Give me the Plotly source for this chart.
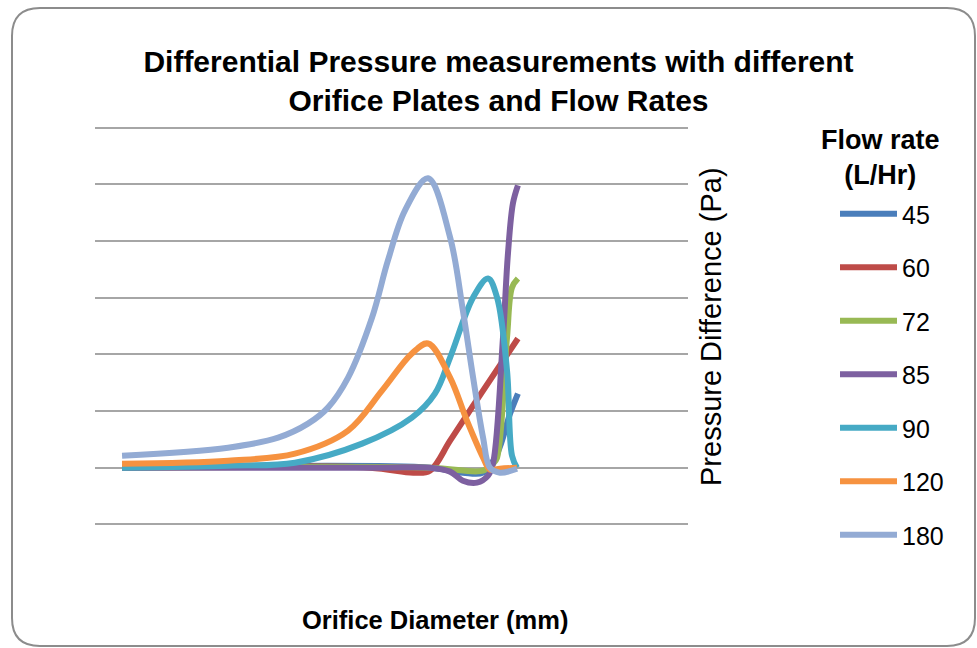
import plotly.graph_objects as go

# ---- data (orifice diameter in mm, pressure difference in Pa) ----
flow_rates = ["45", "60", "72", "85", "90", "120", "180"]
colors = ["#4A7EBB", "#BE4B48", "#98B954", "#7D60A0", "#46AAC5", "#F69240", "#93ABD4"]

d_45 = [1.14, 14.12, 15.51, 16.36, 16.95, 17.50, 17.83]
p_45 = [0, 0, -88, -88, 247, 954, 1307]

d_60 = [1.14, 11.59, 13.41, 14.12, 14.97, 15.94, 16.95, 17.83]
p_60 = [0, 0, -88, -53, 477, 1095, 1731, 2279]

d_72 = [1.14, 14.12, 16.36, 16.78, 16.95, 17.37, 17.58, 17.83]
p_72 = [0, 0, -53, 71, 177, 2297, 3180, 3339]

d_85 = [1.14, 12.02, 14.12, 14.97, 15.51, 16.10, 16.57, 16.78, 17.20, 17.41, 17.62, 17.83]
p_85 = [0, 0, 0, -70, -230, -265, -141, 71, 2297, 3781, 4665, 4982]

d_90 = [1.14, 5.61, 8.43, 11.26, 13.36, 14.33, 14.97, 15.94, 16.57, 16.95, 17.37, 17.58, 17.79]
p_90 = [0, 35, 88, 424, 883, 1307, 1943, 3004, 3339, 3004, 1714, 212, 0]

d_120 = [1.14, 5.61, 8.43, 10.67, 12.10, 13.36, 14.04, 14.97, 15.68, 16.36, 16.65, 17.07, 17.79]
p_120 = [71, 124, 247, 654, 1360, 2014, 2191, 1590, 830, 177, -35, -18, 0]

d_180 = [1.14, 5.61, 7.72, 8.98, 9.82, 10.67, 11.68, 12.35, 13.07, 14.04, 14.97, 15.51, 15.94, 16.36, 16.65, 17.07, 17.79]
p_180 = [212, 353, 530, 777, 1060, 1590, 2650, 3657, 4541, 5106, 4064, 2774, 1590, 530, 0, -88, -18]

diams = [d_45, d_60, d_72, d_85, d_90, d_120, d_180]
press = [p_45, p_60, p_72, p_85, p_90, p_120, p_180]

# ---- layout geometry ----
W, H = 977, 648
L, R, T, B = 95, 289, 122, 118
PW, PH = W - L - R, H - T - B


def px(x):
    return (x - L) / PW


def py(y):
    return (H - B - y) / PH


fig = go.Figure()
for name, c, xs, ys in zip(flow_rates, colors, diams, press):
    fig.add_trace(go.Scatter(
        x=xs, y=ys, name=name, mode="lines", legendgroup=name,
        line=dict(color=c, width=6, shape="spline", smoothing=1.0),
    ))

# rounded chart border
x0, y0, x1, y1, r = 12, 8, 975, 646, 28
rx, ry = r / PW, r / PH
X0, X1, Y0, Y1 = px(x0), px(x1), py(y0), py(y1)
path = (f"M{X0+rx},{Y0} L{X1-rx},{Y0} Q{X1},{Y0} {X1},{Y0-ry} "
        f"L{X1},{Y1+ry} Q{X1},{Y1} {X1-rx},{Y1} L{X0+rx},{Y1} "
        f"Q{X0},{Y1} {X0},{Y1+ry} L{X0},{Y0-ry} Q{X0},{Y0} {X0+rx},{Y0} Z")
fig.add_shape(type="path", path=path, xref="paper", yref="paper",
              line=dict(color="#8c8c8c", width=2), layer="below")

fig.add_annotation(text="Orifice Diameter (mm)", xref="paper", yref="paper",
                   x=px(435), y=py(620), xanchor="center", yanchor="middle", showarrow=False,
                   font=dict(family="Liberation Sans", size=25.5, color="#000000", weight="bold"))
fig.add_annotation(text="Pressure Difference (Pa)", xref="paper", yref="paper",
                   x=px(711), y=py(327), xanchor="center", yanchor="middle",
                   textangle=-90, showarrow=False,
                   font=dict(family="Liberation Sans", size=29, color="#000000"))
fig.add_annotation(text="Flow rate<br>(L/Hr)", xref="paper", yref="paper",
                   x=px(880), y=py(157), xanchor="center", yanchor="middle", showarrow=False,
                   font=dict(family="Liberation Sans", size=27, color="#000000", weight="bold"))

fig.update_layout(
    width=W, height=H,
    margin=dict(l=L, r=R, t=T, b=B),
    paper_bgcolor="white", plot_bgcolor="white",
    title=dict(text="Differential Pressure measurements with different<br>Orifice Plates and Flow Rates",
               xref="container", yref="container", x=498.5 / W, y=1 - 72 / H,
               xanchor="center", yanchor="middle",
               font=dict(family="Liberation Sans", size=30, color="#000000", weight="bold")),
    xaxis=dict(range=[0, 25], showgrid=False, zeroline=False, showticklabels=False,
               ticks="", showline=False),
    yaxis=dict(range=[-1100, 6100], dtick=1000, showgrid=True, gridcolor="#a6a6a6",
               gridwidth=2, zeroline=True, zerolinecolor="#a6a6a6", zerolinewidth=2,
               showticklabels=False, ticks="", showline=False),
    showlegend=True,
    legend=dict(x=px(835), y=py(191), xanchor="left", yanchor="top",
                tracegroupgap=18, itemwidth=57, maxheight=600,
                font=dict(family="Liberation Sans", size=25, color="#000000")),
)

fig.write_html("out.html")
